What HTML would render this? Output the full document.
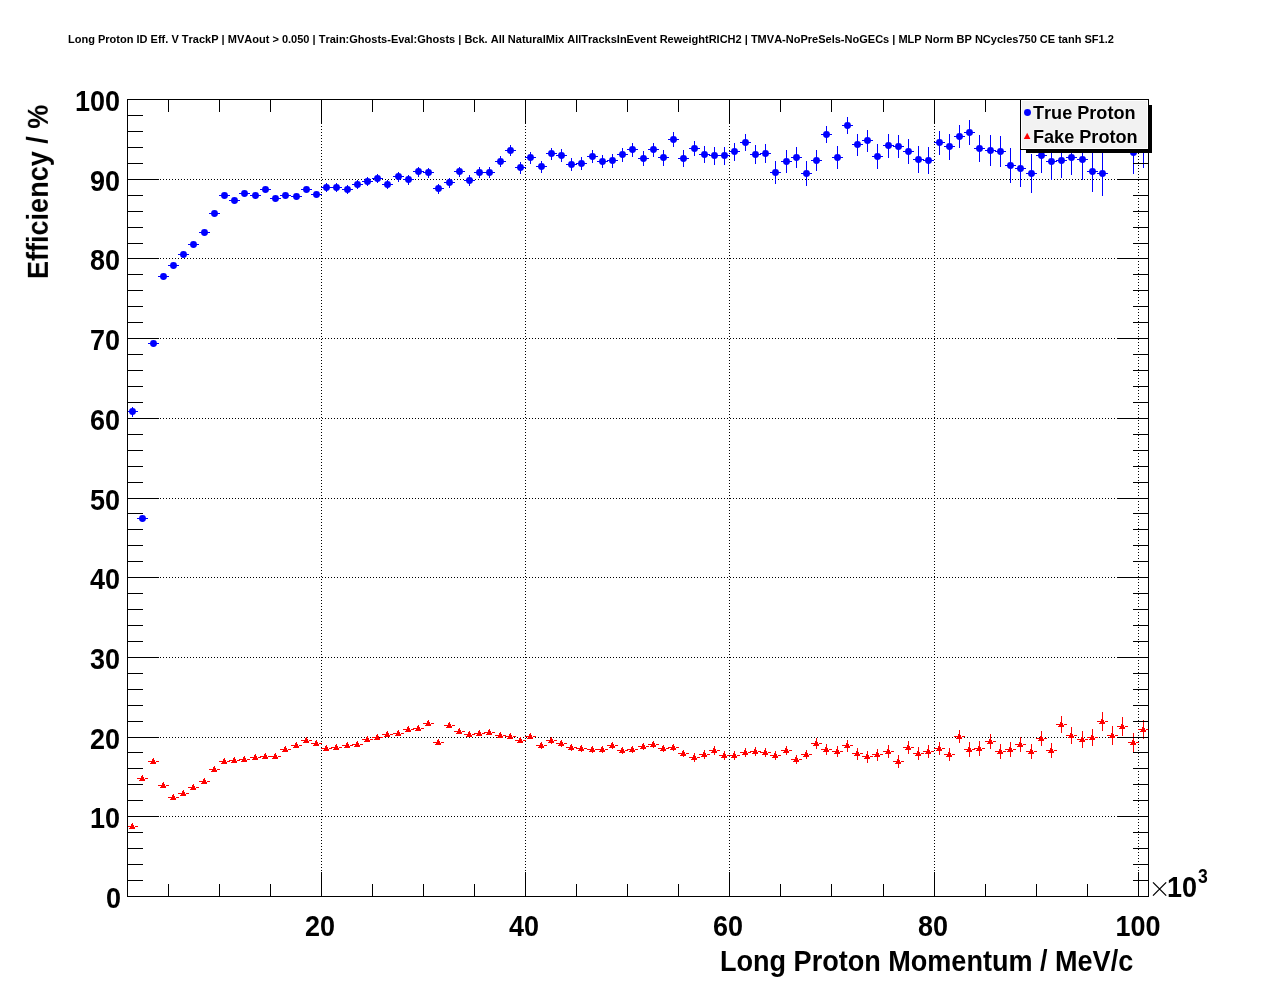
<!DOCTYPE html>
<html><head><meta charset="utf-8"><title>Long Proton ID Eff. V TrackP</title>
<style>
html,body{margin:0;padding:0;background:#fff;}
body{width:1276px;height:996px;position:relative;overflow:hidden;font-family:"Liberation Sans",sans-serif;font-weight:bold;color:#000;}
.t{position:absolute;white-space:nowrap;line-height:1;margin:0;padding:0;will-change:transform;font-kerning:none;}
.xl{font-size:27px;width:120px;text-align:center;top:913.8px;transform:scaleY(1.11);transform-origin:50% 80%;}
.yl{font-size:27px;width:100px;text-align:right;left:20px;transform:scaleY(1.11);transform-origin:50% 50%;}
</style></head><body>
<svg width="1276" height="996" viewBox="0 0 1276 996" style="position:absolute;left:0;top:0">
<rect x="0" y="0" width="1276" height="996" fill="#fff"/>
<path d="M127 816.5H1148M127 737.5H1148M127 657.5H1148M127 577.5H1148M127 498.5H1148M127 418.5H1148M127 338.5H1148M127 258.5H1148M127 179.5H1148" stroke="#000" stroke-width="1" stroke-dasharray="1 2" fill="none" shape-rendering="crispEdges"/>
<path d="M321.5 99V896M525.5 99V896M729.5 99V896M934.5 99V896M1138.5 99V896" stroke="#000" stroke-width="1" stroke-dasharray="1 2" fill="none" shape-rendering="crispEdges"/>
<path d="M127.0 411.5H138.0M132.5 406.5V416.5M137.0 518.5H148.0M148.0 343.5H159.0M158.0 276.5H169.0M168.0 265.5H179.0M178.0 254.5H189.0M188.0 244.5H199.0M199.0 232.5H210.0M209.0 213.5H220.0M219.0 195.5H230.0M229.0 200.5H240.0M239.0 193.5H250.0M250.0 195.5H261.0M260.0 189.5H271.0M270.0 198.5H281.0M280.0 195.5H291.0M291.0 196.5H302.0M301.0 189.5H312.0M311.0 194.5H322.0M321.0 187.5H332.0M326.5 183.0V192.0M331.0 187.5H342.0M336.5 183.0V192.0M342.0 189.5H353.0M347.5 185.0V194.0M352.0 184.5H363.0M357.5 180.0V189.0M362.0 181.5H373.0M367.5 177.0V186.0M372.0 178.5H383.0M377.5 174.0V183.0M382.0 184.5H393.0M387.5 180.0V189.0M393.0 176.5H404.0M398.5 171.5V181.5M403.0 179.5H414.0M408.5 174.5V184.5M413.0 171.5H424.0M418.5 166.5V176.5M423.0 172.5H434.0M428.5 167.5V177.5M433.0 188.5H444.0M438.5 183.5V193.5M444.0 182.5H455.0M449.5 177.5V187.5M454.0 171.5H465.0M459.5 166.5V176.5M464.0 180.5H475.0M469.5 175.0V186.0M474.0 172.5H485.0M479.5 167.0V178.0M484.0 172.5H495.0M489.5 167.0V178.0M495.0 161.5H506.0M500.5 156.0V167.0M505.0 150.5H516.0M510.5 145.0V156.0M515.0 167.5H526.0M520.5 161.5V173.5M525.0 157.5H536.0M530.5 151.5V163.5M536.0 166.5H547.0M541.5 160.5V172.5M546.0 153.5H557.0M551.5 147.5V159.5M556.0 155.5H567.0M561.5 148.9V162.1M566.0 164.5H577.0M571.5 157.9V171.1M576.0 163.5H587.0M581.5 156.9V170.1M587.0 156.5H598.0M592.5 149.9V163.1M597.0 161.5H608.0M602.5 154.9V168.1M607.0 160.5H618.0M612.5 153.5V167.5M617.0 154.5H628.0M622.5 147.5V161.5M627.0 149.5H638.0M632.5 142.5V156.5M638.0 158.5H649.0M643.5 151.2V165.8M648.0 149.5H659.0M653.5 142.5V156.5M658.0 157.5H669.0M663.5 149.5V165.5M668.0 139.5H679.0M673.5 132.3V146.7M678.0 158.5H689.0M683.5 150.2V166.8M689.0 148.5H700.0M694.5 140.7V156.3M699.0 154.5H710.0M704.5 146.0V163.0M709.0 155.5H720.0M714.5 146.5V164.5M719.0 155.5H730.0M724.5 146.5V164.5M729.0 151.5H740.0M734.5 142.5V160.5M740.0 142.5H751.0M745.5 133.7V151.3M750.0 154.5H761.0M755.5 145.0V164.0M760.0 153.5H771.0M765.5 144.1V162.9M770.0 172.5H781.0M775.5 161.4V183.6M781.0 161.5H792.0M786.5 150.4V172.6M791.0 157.5H802.0M796.5 146.9V168.1M801.0 173.5H812.0M806.5 161.0V186.0M811.0 160.5H822.0M816.5 150.0V171.0M821.0 134.5H832.0M826.5 125.6V143.4M832.0 157.5H843.0M837.5 146.0V169.0M842.0 125.5H853.0M847.5 117.0V134.0M852.0 144.5H863.0M857.5 133.5V155.5M862.0 140.5H873.0M867.5 129.5V151.5M872.0 156.5H883.0M877.5 144.0V169.0M883.0 145.5H894.0M888.5 133.5V157.5M893.0 146.5H904.0M898.5 135.0V158.0M903.0 151.5H914.0M908.5 139.0V164.0M913.0 159.5H924.0M918.5 146.1V172.9M923.0 160.5H934.0M928.5 146.6V174.4M934.0 142.5H945.0M939.5 130.5V154.5M944.0 146.5H955.0M949.5 133.5V159.5M954.0 136.5H965.0M959.5 125.2V147.8M964.0 132.5H975.0M969.5 119.6V145.4M974.0 148.5H985.0M979.5 135.0V162.0M985.0 150.5H996.0M990.5 135.0V166.0M995.0 151.5H1006.0M1000.5 136.1V166.9M1005.0 165.5H1016.0M1010.5 148.1V182.9M1015.0 168.5H1026.0M1020.5 149.9V187.1M1026.0 173.5H1037.0M1031.5 154.0V193.0M1036.0 155.5H1047.0M1041.5 137.9V173.1M1046.0 161.5H1057.0M1051.5 142.9V180.1M1056.0 160.5H1067.0M1061.5 142.9V178.1M1066.0 157.5H1077.0M1071.5 140.1V174.9M1077.0 159.5H1088.0M1082.5 138.9V180.1M1087.0 171.5H1098.0M1092.5 151.5V191.5M1097.0 173.5H1108.0M1102.5 150.9V196.1M1128.0 152.5H1139.0M1133.5 131.5V173.5M1138.0 143.5H1149.0M1143.5 119.5V167.5" stroke="#0000ff" stroke-width="1" fill="none" shape-rendering="crispEdges"/>
<path d="M129.05 411.5a3.45 3.45 0 1 0 6.9 0a3.45 3.45 0 1 0 -6.9 0zM139.05 518.5a3.45 3.45 0 1 0 6.9 0a3.45 3.45 0 1 0 -6.9 0zM150.05 343.5a3.45 3.45 0 1 0 6.9 0a3.45 3.45 0 1 0 -6.9 0zM160.05 276.5a3.45 3.45 0 1 0 6.9 0a3.45 3.45 0 1 0 -6.9 0zM170.05 265.5a3.45 3.45 0 1 0 6.9 0a3.45 3.45 0 1 0 -6.9 0zM180.05 254.5a3.45 3.45 0 1 0 6.9 0a3.45 3.45 0 1 0 -6.9 0zM190.05 244.5a3.45 3.45 0 1 0 6.9 0a3.45 3.45 0 1 0 -6.9 0zM201.05 232.5a3.45 3.45 0 1 0 6.9 0a3.45 3.45 0 1 0 -6.9 0zM211.05 213.5a3.45 3.45 0 1 0 6.9 0a3.45 3.45 0 1 0 -6.9 0zM221.05 195.5a3.45 3.45 0 1 0 6.9 0a3.45 3.45 0 1 0 -6.9 0zM231.05 200.5a3.45 3.45 0 1 0 6.9 0a3.45 3.45 0 1 0 -6.9 0zM241.05 193.5a3.45 3.45 0 1 0 6.9 0a3.45 3.45 0 1 0 -6.9 0zM252.05 195.5a3.45 3.45 0 1 0 6.9 0a3.45 3.45 0 1 0 -6.9 0zM262.05 189.5a3.45 3.45 0 1 0 6.9 0a3.45 3.45 0 1 0 -6.9 0zM272.05 198.5a3.45 3.45 0 1 0 6.9 0a3.45 3.45 0 1 0 -6.9 0zM282.05 195.5a3.45 3.45 0 1 0 6.9 0a3.45 3.45 0 1 0 -6.9 0zM293.05 196.5a3.45 3.45 0 1 0 6.9 0a3.45 3.45 0 1 0 -6.9 0zM303.05 189.5a3.45 3.45 0 1 0 6.9 0a3.45 3.45 0 1 0 -6.9 0zM313.05 194.5a3.45 3.45 0 1 0 6.9 0a3.45 3.45 0 1 0 -6.9 0zM323.05 187.5a3.45 3.45 0 1 0 6.9 0a3.45 3.45 0 1 0 -6.9 0zM333.05 187.5a3.45 3.45 0 1 0 6.9 0a3.45 3.45 0 1 0 -6.9 0zM344.05 189.5a3.45 3.45 0 1 0 6.9 0a3.45 3.45 0 1 0 -6.9 0zM354.05 184.5a3.45 3.45 0 1 0 6.9 0a3.45 3.45 0 1 0 -6.9 0zM364.05 181.5a3.45 3.45 0 1 0 6.9 0a3.45 3.45 0 1 0 -6.9 0zM374.05 178.5a3.45 3.45 0 1 0 6.9 0a3.45 3.45 0 1 0 -6.9 0zM384.05 184.5a3.45 3.45 0 1 0 6.9 0a3.45 3.45 0 1 0 -6.9 0zM395.05 176.5a3.45 3.45 0 1 0 6.9 0a3.45 3.45 0 1 0 -6.9 0zM405.05 179.5a3.45 3.45 0 1 0 6.9 0a3.45 3.45 0 1 0 -6.9 0zM415.05 171.5a3.45 3.45 0 1 0 6.9 0a3.45 3.45 0 1 0 -6.9 0zM425.05 172.5a3.45 3.45 0 1 0 6.9 0a3.45 3.45 0 1 0 -6.9 0zM435.05 188.5a3.45 3.45 0 1 0 6.9 0a3.45 3.45 0 1 0 -6.9 0zM446.05 182.5a3.45 3.45 0 1 0 6.9 0a3.45 3.45 0 1 0 -6.9 0zM456.05 171.5a3.45 3.45 0 1 0 6.9 0a3.45 3.45 0 1 0 -6.9 0zM466.05 180.5a3.45 3.45 0 1 0 6.9 0a3.45 3.45 0 1 0 -6.9 0zM476.05 172.5a3.45 3.45 0 1 0 6.9 0a3.45 3.45 0 1 0 -6.9 0zM486.05 172.5a3.45 3.45 0 1 0 6.9 0a3.45 3.45 0 1 0 -6.9 0zM497.05 161.5a3.45 3.45 0 1 0 6.9 0a3.45 3.45 0 1 0 -6.9 0zM507.05 150.5a3.45 3.45 0 1 0 6.9 0a3.45 3.45 0 1 0 -6.9 0zM517.05 167.5a3.45 3.45 0 1 0 6.9 0a3.45 3.45 0 1 0 -6.9 0zM527.05 157.5a3.45 3.45 0 1 0 6.9 0a3.45 3.45 0 1 0 -6.9 0zM538.05 166.5a3.45 3.45 0 1 0 6.9 0a3.45 3.45 0 1 0 -6.9 0zM548.05 153.5a3.45 3.45 0 1 0 6.9 0a3.45 3.45 0 1 0 -6.9 0zM558.05 155.5a3.45 3.45 0 1 0 6.9 0a3.45 3.45 0 1 0 -6.9 0zM568.05 164.5a3.45 3.45 0 1 0 6.9 0a3.45 3.45 0 1 0 -6.9 0zM578.05 163.5a3.45 3.45 0 1 0 6.9 0a3.45 3.45 0 1 0 -6.9 0zM589.05 156.5a3.45 3.45 0 1 0 6.9 0a3.45 3.45 0 1 0 -6.9 0zM599.05 161.5a3.45 3.45 0 1 0 6.9 0a3.45 3.45 0 1 0 -6.9 0zM609.05 160.5a3.45 3.45 0 1 0 6.9 0a3.45 3.45 0 1 0 -6.9 0zM619.05 154.5a3.45 3.45 0 1 0 6.9 0a3.45 3.45 0 1 0 -6.9 0zM629.05 149.5a3.45 3.45 0 1 0 6.9 0a3.45 3.45 0 1 0 -6.9 0zM640.05 158.5a3.45 3.45 0 1 0 6.9 0a3.45 3.45 0 1 0 -6.9 0zM650.05 149.5a3.45 3.45 0 1 0 6.9 0a3.45 3.45 0 1 0 -6.9 0zM660.05 157.5a3.45 3.45 0 1 0 6.9 0a3.45 3.45 0 1 0 -6.9 0zM670.05 139.5a3.45 3.45 0 1 0 6.9 0a3.45 3.45 0 1 0 -6.9 0zM680.05 158.5a3.45 3.45 0 1 0 6.9 0a3.45 3.45 0 1 0 -6.9 0zM691.05 148.5a3.45 3.45 0 1 0 6.9 0a3.45 3.45 0 1 0 -6.9 0zM701.05 154.5a3.45 3.45 0 1 0 6.9 0a3.45 3.45 0 1 0 -6.9 0zM711.05 155.5a3.45 3.45 0 1 0 6.9 0a3.45 3.45 0 1 0 -6.9 0zM721.05 155.5a3.45 3.45 0 1 0 6.9 0a3.45 3.45 0 1 0 -6.9 0zM731.05 151.5a3.45 3.45 0 1 0 6.9 0a3.45 3.45 0 1 0 -6.9 0zM742.05 142.5a3.45 3.45 0 1 0 6.9 0a3.45 3.45 0 1 0 -6.9 0zM752.05 154.5a3.45 3.45 0 1 0 6.9 0a3.45 3.45 0 1 0 -6.9 0zM762.05 153.5a3.45 3.45 0 1 0 6.9 0a3.45 3.45 0 1 0 -6.9 0zM772.05 172.5a3.45 3.45 0 1 0 6.9 0a3.45 3.45 0 1 0 -6.9 0zM783.05 161.5a3.45 3.45 0 1 0 6.9 0a3.45 3.45 0 1 0 -6.9 0zM793.05 157.5a3.45 3.45 0 1 0 6.9 0a3.45 3.45 0 1 0 -6.9 0zM803.05 173.5a3.45 3.45 0 1 0 6.9 0a3.45 3.45 0 1 0 -6.9 0zM813.05 160.5a3.45 3.45 0 1 0 6.9 0a3.45 3.45 0 1 0 -6.9 0zM823.05 134.5a3.45 3.45 0 1 0 6.9 0a3.45 3.45 0 1 0 -6.9 0zM834.05 157.5a3.45 3.45 0 1 0 6.9 0a3.45 3.45 0 1 0 -6.9 0zM844.05 125.5a3.45 3.45 0 1 0 6.9 0a3.45 3.45 0 1 0 -6.9 0zM854.05 144.5a3.45 3.45 0 1 0 6.9 0a3.45 3.45 0 1 0 -6.9 0zM864.05 140.5a3.45 3.45 0 1 0 6.9 0a3.45 3.45 0 1 0 -6.9 0zM874.05 156.5a3.45 3.45 0 1 0 6.9 0a3.45 3.45 0 1 0 -6.9 0zM885.05 145.5a3.45 3.45 0 1 0 6.9 0a3.45 3.45 0 1 0 -6.9 0zM895.05 146.5a3.45 3.45 0 1 0 6.9 0a3.45 3.45 0 1 0 -6.9 0zM905.05 151.5a3.45 3.45 0 1 0 6.9 0a3.45 3.45 0 1 0 -6.9 0zM915.05 159.5a3.45 3.45 0 1 0 6.9 0a3.45 3.45 0 1 0 -6.9 0zM925.05 160.5a3.45 3.45 0 1 0 6.9 0a3.45 3.45 0 1 0 -6.9 0zM936.05 142.5a3.45 3.45 0 1 0 6.9 0a3.45 3.45 0 1 0 -6.9 0zM946.05 146.5a3.45 3.45 0 1 0 6.9 0a3.45 3.45 0 1 0 -6.9 0zM956.05 136.5a3.45 3.45 0 1 0 6.9 0a3.45 3.45 0 1 0 -6.9 0zM966.05 132.5a3.45 3.45 0 1 0 6.9 0a3.45 3.45 0 1 0 -6.9 0zM976.05 148.5a3.45 3.45 0 1 0 6.9 0a3.45 3.45 0 1 0 -6.9 0zM987.05 150.5a3.45 3.45 0 1 0 6.9 0a3.45 3.45 0 1 0 -6.9 0zM997.05 151.5a3.45 3.45 0 1 0 6.9 0a3.45 3.45 0 1 0 -6.9 0zM1007.05 165.5a3.45 3.45 0 1 0 6.9 0a3.45 3.45 0 1 0 -6.9 0zM1017.05 168.5a3.45 3.45 0 1 0 6.9 0a3.45 3.45 0 1 0 -6.9 0zM1028.05 173.5a3.45 3.45 0 1 0 6.9 0a3.45 3.45 0 1 0 -6.9 0zM1038.05 155.5a3.45 3.45 0 1 0 6.9 0a3.45 3.45 0 1 0 -6.9 0zM1048.05 161.5a3.45 3.45 0 1 0 6.9 0a3.45 3.45 0 1 0 -6.9 0zM1058.05 160.5a3.45 3.45 0 1 0 6.9 0a3.45 3.45 0 1 0 -6.9 0zM1068.05 157.5a3.45 3.45 0 1 0 6.9 0a3.45 3.45 0 1 0 -6.9 0zM1079.05 159.5a3.45 3.45 0 1 0 6.9 0a3.45 3.45 0 1 0 -6.9 0zM1089.05 171.5a3.45 3.45 0 1 0 6.9 0a3.45 3.45 0 1 0 -6.9 0zM1099.05 173.5a3.45 3.45 0 1 0 6.9 0a3.45 3.45 0 1 0 -6.9 0zM1130.05 152.5a3.45 3.45 0 1 0 6.9 0a3.45 3.45 0 1 0 -6.9 0zM1140.05 143.5a3.45 3.45 0 1 0 6.9 0a3.45 3.45 0 1 0 -6.9 0z" fill="#0000ff"/>
<path d="M127.0 826.5H134.0M135.0 826.5H138.0M137.0 778.5H144.0M145.0 778.5H148.0M148.0 761.5H155.0M156.0 761.5H159.0M158.0 785.5H165.0M166.0 785.5H169.0M168.0 797.5H175.0M176.0 797.5H179.0M178.0 793.5H185.0M186.0 793.5H189.0M188.0 787.5H195.0M196.0 787.5H199.0M199.0 781.5H206.0M207.0 781.5H210.0M209.0 769.5H216.0M217.0 769.5H220.0M219.0 761.5H226.0M227.0 761.5H230.0M229.0 760.5H236.0M237.0 760.5H240.0M239.0 759.5H246.0M247.0 759.5H250.0M250.0 757.5H257.0M258.0 757.5H261.0M260.0 756.5H267.0M268.0 756.5H271.0M270.0 756.5H277.0M278.0 756.5H281.0M280.0 749.5H287.0M288.0 749.5H291.0M291.0 745.5H298.0M299.0 745.5H302.0M301.0 740.5H308.0M309.0 740.5H312.0M311.0 743.5H318.0M319.0 743.5H322.0M321.0 748.5H328.0M329.0 748.5H332.0M331.0 747.5H338.0M339.0 747.5H342.0M342.0 745.5H349.0M350.0 745.5H353.0M352.0 744.5H359.0M360.0 744.5H363.0M362.0 739.5H369.0M370.0 739.5H373.0M372.0 737.5H379.0M380.0 737.5H383.0M382.0 734.5H389.0M390.0 734.5H393.0M393.0 733.5H400.0M401.0 733.5H404.0M403.0 729.5H410.0M411.0 729.5H414.0M413.0 728.5H420.0M421.0 728.5H424.0M423.0 723.5H430.0M431.0 723.5H434.0M433.0 742.5H440.0M441.0 742.5H444.0M444.0 725.5H451.0M452.0 725.5H455.0M454.0 731.5H461.0M462.0 731.5H465.0M464.0 734.5H471.0M472.0 734.5H475.0M474.0 733.5H481.0M482.0 733.5H485.0M484.0 732.5H491.0M492.0 732.5H495.0M495.0 735.5H502.0M503.0 735.5H506.0M505.0 736.5H512.0M513.0 736.5H516.0M515.0 740.5H522.0M523.0 740.5H526.0M525.0 736.5H532.0M533.0 736.5H536.0M536.0 745.5H543.0M544.0 745.5H547.0M541.5 742.5V748.5M546.0 740.5H553.0M554.0 740.5H557.0M551.5 737.5V743.5M556.0 743.5H563.0M564.0 743.5H567.0M561.5 740.5V746.5M566.0 747.5H573.0M574.0 747.5H577.0M571.5 744.5V750.5M576.0 748.5H583.0M584.0 748.5H587.0M581.5 745.5V751.5M587.0 749.5H594.0M595.0 749.5H598.0M592.5 746.5V752.5M597.0 749.5H604.0M605.0 749.5H608.0M602.5 746.5V752.5M607.0 745.5H614.0M615.0 745.5H618.0M612.5 742.5V748.5M617.0 750.5H624.0M625.0 750.5H628.0M622.5 746.9V754.1M627.0 749.5H634.0M635.0 749.5H638.0M632.5 745.9V753.1M638.0 746.5H645.0M646.0 746.5H649.0M643.5 742.9V750.1M648.0 744.5H655.0M656.0 744.5H659.0M653.5 740.9V748.1M658.0 748.5H665.0M666.0 748.5H669.0M663.5 744.9V752.1M668.0 747.5H675.0M676.0 747.5H679.0M673.5 743.9V751.1M678.0 753.5H685.0M686.0 753.5H689.0M683.5 749.9V757.1M689.0 757.5H696.0M697.0 757.5H700.0M694.5 753.4V761.6M699.0 754.5H706.0M707.0 754.5H710.0M704.5 750.4V758.6M709.0 750.5H716.0M717.0 750.5H720.0M714.5 746.4V754.6M719.0 755.5H726.0M727.0 755.5H730.0M724.5 751.4V759.6M729.0 755.5H736.0M737.0 755.5H740.0M734.5 750.9V760.1M740.0 752.5H747.0M748.0 752.5H751.0M745.5 747.9V757.1M750.0 751.5H757.0M758.0 751.5H761.0M755.5 746.9V756.1M760.0 752.5H767.0M768.0 752.5H771.0M765.5 747.9V757.1M770.0 755.5H777.0M778.0 755.5H781.0M775.5 750.9V760.1M781.0 750.5H788.0M789.0 750.5H792.0M786.5 745.6V755.4M791.0 759.5H798.0M799.0 759.5H802.0M796.5 754.6V764.4M801.0 754.5H808.0M809.0 754.5H812.0M806.5 749.6V759.4M811.0 743.5H818.0M819.0 743.5H822.0M816.5 738.1V748.9M821.0 749.5H828.0M829.0 749.5H832.0M826.5 744.1V754.9M832.0 751.5H839.0M840.0 751.5H843.0M837.5 746.1V756.9M842.0 745.5H849.0M850.0 745.5H853.0M847.5 739.5V751.5M852.0 753.5H859.0M860.0 753.5H863.0M857.5 747.5V759.5M862.0 756.5H869.0M870.0 756.5H873.0M867.5 750.5V762.5M872.0 754.5H879.0M880.0 754.5H883.0M877.5 748.5V760.5M883.0 751.5H890.0M891.0 751.5H894.0M888.5 745.2V757.8M893.0 761.5H900.0M901.0 761.5H904.0M898.5 755.2V767.8M903.0 747.5H910.0M911.0 747.5H914.0M908.5 741.2V753.8M913.0 753.5H920.0M921.0 753.5H924.0M918.5 747.2V759.8M923.0 751.5H930.0M931.0 751.5H934.0M928.5 745.2V757.8M934.0 748.5H941.0M942.0 748.5H945.0M939.5 742.2V754.8M944.0 754.5H951.0M952.0 754.5H955.0M949.5 747.6V761.4M954.0 736.5H961.0M962.0 736.5H965.0M959.5 729.6V743.4M964.0 749.5H971.0M972.0 749.5H975.0M969.5 742.1V756.9M974.0 748.5H981.0M982.0 748.5H985.0M979.5 741.1V755.9M985.0 741.5H992.0M993.0 741.5H996.0M990.5 734.1V748.9M995.0 751.5H1002.0M1003.0 751.5H1006.0M1000.5 744.1V758.9M1005.0 749.5H1012.0M1013.0 749.5H1016.0M1010.5 742.1V756.9M1015.0 744.5H1022.0M1023.0 744.5H1026.0M1020.5 736.7V752.3M1026.0 751.5H1033.0M1034.0 751.5H1037.0M1031.5 743.7V759.3M1036.0 738.5H1043.0M1044.0 738.5H1047.0M1041.5 730.7V746.3M1046.0 750.5H1053.0M1054.0 750.5H1057.0M1051.5 742.7V758.3M1056.0 724.5H1063.0M1064.0 724.5H1067.0M1061.5 715.7V733.3M1066.0 735.5H1073.0M1074.0 735.5H1077.0M1071.5 727.0V744.0M1077.0 739.5H1084.0M1085.0 739.5H1088.0M1082.5 730.7V748.3M1087.0 737.5H1094.0M1095.0 737.5H1098.0M1092.5 729.0V746.0M1097.0 721.5H1104.0M1105.0 721.5H1108.0M1102.5 712.2V730.8M1107.0 735.5H1114.0M1115.0 735.5H1118.0M1112.5 726.1V744.9M1117.0 726.5H1124.0M1125.0 726.5H1128.0M1122.5 717.1V735.9M1128.0 742.5H1135.0M1136.0 742.5H1139.0M1133.5 733.0V752.0M1138.0 729.5H1145.0M1146.0 729.5H1149.0M1143.5 719.6V739.4" stroke="#ff0000" stroke-width="1" fill="none" shape-rendering="crispEdges"/>
<path d="M132 823h1v1h-1zM131 824h2v1h-2zM131 825h3v1h-3zM130 827h5v1h-5zM129 828h6v1h-6zM142 775h1v1h-1zM141 776h2v1h-2zM141 777h3v1h-3zM140 779h5v1h-5zM139 780h6v1h-6zM153 758h1v1h-1zM152 759h2v1h-2zM152 760h3v1h-3zM151 762h5v1h-5zM150 763h6v1h-6zM163 782h1v1h-1zM162 783h2v1h-2zM162 784h3v1h-3zM161 786h5v1h-5zM160 787h6v1h-6zM173 794h1v1h-1zM172 795h2v1h-2zM172 796h3v1h-3zM171 798h5v1h-5zM170 799h6v1h-6zM183 790h1v1h-1zM182 791h2v1h-2zM182 792h3v1h-3zM181 794h5v1h-5zM180 795h6v1h-6zM193 784h1v1h-1zM192 785h2v1h-2zM192 786h3v1h-3zM191 788h5v1h-5zM190 789h6v1h-6zM204 778h1v1h-1zM203 779h2v1h-2zM203 780h3v1h-3zM202 782h5v1h-5zM201 783h6v1h-6zM214 766h1v1h-1zM213 767h2v1h-2zM213 768h3v1h-3zM212 770h5v1h-5zM211 771h6v1h-6zM224 758h1v1h-1zM223 759h2v1h-2zM223 760h3v1h-3zM222 762h5v1h-5zM221 763h6v1h-6zM234 757h1v1h-1zM233 758h2v1h-2zM233 759h3v1h-3zM232 761h5v1h-5zM231 762h6v1h-6zM244 756h1v1h-1zM243 757h2v1h-2zM243 758h3v1h-3zM242 760h5v1h-5zM241 761h6v1h-6zM255 754h1v1h-1zM254 755h2v1h-2zM254 756h3v1h-3zM253 758h5v1h-5zM252 759h6v1h-6zM265 753h1v1h-1zM264 754h2v1h-2zM264 755h3v1h-3zM263 757h5v1h-5zM262 758h6v1h-6zM275 753h1v1h-1zM274 754h2v1h-2zM274 755h3v1h-3zM273 757h5v1h-5zM272 758h6v1h-6zM285 746h1v1h-1zM284 747h2v1h-2zM284 748h3v1h-3zM283 750h5v1h-5zM282 751h6v1h-6zM296 742h1v1h-1zM295 743h2v1h-2zM295 744h3v1h-3zM294 746h5v1h-5zM293 747h6v1h-6zM306 737h1v1h-1zM305 738h2v1h-2zM305 739h3v1h-3zM304 741h5v1h-5zM303 742h6v1h-6zM316 740h1v1h-1zM315 741h2v1h-2zM315 742h3v1h-3zM314 744h5v1h-5zM313 745h6v1h-6zM326 745h1v1h-1zM325 746h2v1h-2zM325 747h3v1h-3zM324 749h5v1h-5zM323 750h6v1h-6zM336 744h1v1h-1zM335 745h2v1h-2zM335 746h3v1h-3zM334 748h5v1h-5zM333 749h6v1h-6zM347 742h1v1h-1zM346 743h2v1h-2zM346 744h3v1h-3zM345 746h5v1h-5zM344 747h6v1h-6zM357 741h1v1h-1zM356 742h2v1h-2zM356 743h3v1h-3zM355 745h5v1h-5zM354 746h6v1h-6zM367 736h1v1h-1zM366 737h2v1h-2zM366 738h3v1h-3zM365 740h5v1h-5zM364 741h6v1h-6zM377 734h1v1h-1zM376 735h2v1h-2zM376 736h3v1h-3zM375 738h5v1h-5zM374 739h6v1h-6zM387 731h1v1h-1zM386 732h2v1h-2zM386 733h3v1h-3zM385 735h5v1h-5zM384 736h6v1h-6zM398 730h1v1h-1zM397 731h2v1h-2zM397 732h3v1h-3zM396 734h5v1h-5zM395 735h6v1h-6zM408 726h1v1h-1zM407 727h2v1h-2zM407 728h3v1h-3zM406 730h5v1h-5zM405 731h6v1h-6zM418 725h1v1h-1zM417 726h2v1h-2zM417 727h3v1h-3zM416 729h5v1h-5zM415 730h6v1h-6zM428 720h1v1h-1zM427 721h2v1h-2zM427 722h3v1h-3zM426 724h5v1h-5zM425 725h6v1h-6zM438 739h1v1h-1zM437 740h2v1h-2zM437 741h3v1h-3zM436 743h5v1h-5zM435 744h6v1h-6zM449 722h1v1h-1zM448 723h2v1h-2zM448 724h3v1h-3zM447 726h5v1h-5zM446 727h6v1h-6zM459 728h1v1h-1zM458 729h2v1h-2zM458 730h3v1h-3zM457 732h5v1h-5zM456 733h6v1h-6zM469 731h1v1h-1zM468 732h2v1h-2zM468 733h3v1h-3zM467 735h5v1h-5zM466 736h6v1h-6zM479 730h1v1h-1zM478 731h2v1h-2zM478 732h3v1h-3zM477 734h5v1h-5zM476 735h6v1h-6zM489 729h1v1h-1zM488 730h2v1h-2zM488 731h3v1h-3zM487 733h5v1h-5zM486 734h6v1h-6zM500 732h1v1h-1zM499 733h2v1h-2zM499 734h3v1h-3zM498 736h5v1h-5zM497 737h6v1h-6zM510 733h1v1h-1zM509 734h2v1h-2zM509 735h3v1h-3zM508 737h5v1h-5zM507 738h6v1h-6zM520 737h1v1h-1zM519 738h2v1h-2zM519 739h3v1h-3zM518 741h5v1h-5zM517 742h6v1h-6zM530 733h1v1h-1zM529 734h2v1h-2zM529 735h3v1h-3zM528 737h5v1h-5zM527 738h6v1h-6zM541 742h1v1h-1zM540 743h2v1h-2zM540 744h3v1h-3zM539 746h5v1h-5zM538 747h6v1h-6zM551 737h1v1h-1zM550 738h2v1h-2zM550 739h3v1h-3zM549 741h5v1h-5zM548 742h6v1h-6zM561 740h1v1h-1zM560 741h2v1h-2zM560 742h3v1h-3zM559 744h5v1h-5zM558 745h6v1h-6zM571 744h1v1h-1zM570 745h2v1h-2zM570 746h3v1h-3zM569 748h5v1h-5zM568 749h6v1h-6zM581 745h1v1h-1zM580 746h2v1h-2zM580 747h3v1h-3zM579 749h5v1h-5zM578 750h6v1h-6zM592 746h1v1h-1zM591 747h2v1h-2zM591 748h3v1h-3zM590 750h5v1h-5zM589 751h6v1h-6zM602 746h1v1h-1zM601 747h2v1h-2zM601 748h3v1h-3zM600 750h5v1h-5zM599 751h6v1h-6zM612 742h1v1h-1zM611 743h2v1h-2zM611 744h3v1h-3zM610 746h5v1h-5zM609 747h6v1h-6zM622 747h1v1h-1zM621 748h2v1h-2zM621 749h3v1h-3zM620 751h5v1h-5zM619 752h6v1h-6zM632 746h1v1h-1zM631 747h2v1h-2zM631 748h3v1h-3zM630 750h5v1h-5zM629 751h6v1h-6zM643 743h1v1h-1zM642 744h2v1h-2zM642 745h3v1h-3zM641 747h5v1h-5zM640 748h6v1h-6zM653 741h1v1h-1zM652 742h2v1h-2zM652 743h3v1h-3zM651 745h5v1h-5zM650 746h6v1h-6zM663 745h1v1h-1zM662 746h2v1h-2zM662 747h3v1h-3zM661 749h5v1h-5zM660 750h6v1h-6zM673 744h1v1h-1zM672 745h2v1h-2zM672 746h3v1h-3zM671 748h5v1h-5zM670 749h6v1h-6zM683 750h1v1h-1zM682 751h2v1h-2zM682 752h3v1h-3zM681 754h5v1h-5zM680 755h6v1h-6zM694 754h1v1h-1zM693 755h2v1h-2zM693 756h3v1h-3zM692 758h5v1h-5zM691 759h6v1h-6zM704 751h1v1h-1zM703 752h2v1h-2zM703 753h3v1h-3zM702 755h5v1h-5zM701 756h6v1h-6zM714 747h1v1h-1zM713 748h2v1h-2zM713 749h3v1h-3zM712 751h5v1h-5zM711 752h6v1h-6zM724 752h1v1h-1zM723 753h2v1h-2zM723 754h3v1h-3zM722 756h5v1h-5zM721 757h6v1h-6zM734 752h1v1h-1zM733 753h2v1h-2zM733 754h3v1h-3zM732 756h5v1h-5zM731 757h6v1h-6zM745 749h1v1h-1zM744 750h2v1h-2zM744 751h3v1h-3zM743 753h5v1h-5zM742 754h6v1h-6zM755 748h1v1h-1zM754 749h2v1h-2zM754 750h3v1h-3zM753 752h5v1h-5zM752 753h6v1h-6zM765 749h1v1h-1zM764 750h2v1h-2zM764 751h3v1h-3zM763 753h5v1h-5zM762 754h6v1h-6zM775 752h1v1h-1zM774 753h2v1h-2zM774 754h3v1h-3zM773 756h5v1h-5zM772 757h6v1h-6zM786 747h1v1h-1zM785 748h2v1h-2zM785 749h3v1h-3zM784 751h5v1h-5zM783 752h6v1h-6zM796 756h1v1h-1zM795 757h2v1h-2zM795 758h3v1h-3zM794 760h5v1h-5zM793 761h6v1h-6zM806 751h1v1h-1zM805 752h2v1h-2zM805 753h3v1h-3zM804 755h5v1h-5zM803 756h6v1h-6zM816 740h1v1h-1zM815 741h2v1h-2zM815 742h3v1h-3zM814 744h5v1h-5zM813 745h6v1h-6zM826 746h1v1h-1zM825 747h2v1h-2zM825 748h3v1h-3zM824 750h5v1h-5zM823 751h6v1h-6zM837 748h1v1h-1zM836 749h2v1h-2zM836 750h3v1h-3zM835 752h5v1h-5zM834 753h6v1h-6zM847 742h1v1h-1zM846 743h2v1h-2zM846 744h3v1h-3zM845 746h5v1h-5zM844 747h6v1h-6zM857 750h1v1h-1zM856 751h2v1h-2zM856 752h3v1h-3zM855 754h5v1h-5zM854 755h6v1h-6zM867 753h1v1h-1zM866 754h2v1h-2zM866 755h3v1h-3zM865 757h5v1h-5zM864 758h6v1h-6zM877 751h1v1h-1zM876 752h2v1h-2zM876 753h3v1h-3zM875 755h5v1h-5zM874 756h6v1h-6zM888 748h1v1h-1zM887 749h2v1h-2zM887 750h3v1h-3zM886 752h5v1h-5zM885 753h6v1h-6zM898 758h1v1h-1zM897 759h2v1h-2zM897 760h3v1h-3zM896 762h5v1h-5zM895 763h6v1h-6zM908 744h1v1h-1zM907 745h2v1h-2zM907 746h3v1h-3zM906 748h5v1h-5zM905 749h6v1h-6zM918 750h1v1h-1zM917 751h2v1h-2zM917 752h3v1h-3zM916 754h5v1h-5zM915 755h6v1h-6zM928 748h1v1h-1zM927 749h2v1h-2zM927 750h3v1h-3zM926 752h5v1h-5zM925 753h6v1h-6zM939 745h1v1h-1zM938 746h2v1h-2zM938 747h3v1h-3zM937 749h5v1h-5zM936 750h6v1h-6zM949 751h1v1h-1zM948 752h2v1h-2zM948 753h3v1h-3zM947 755h5v1h-5zM946 756h6v1h-6zM959 733h1v1h-1zM958 734h2v1h-2zM958 735h3v1h-3zM957 737h5v1h-5zM956 738h6v1h-6zM969 746h1v1h-1zM968 747h2v1h-2zM968 748h3v1h-3zM967 750h5v1h-5zM966 751h6v1h-6zM979 745h1v1h-1zM978 746h2v1h-2zM978 747h3v1h-3zM977 749h5v1h-5zM976 750h6v1h-6zM990 738h1v1h-1zM989 739h2v1h-2zM989 740h3v1h-3zM988 742h5v1h-5zM987 743h6v1h-6zM1000 748h1v1h-1zM999 749h2v1h-2zM999 750h3v1h-3zM998 752h5v1h-5zM997 753h6v1h-6zM1010 746h1v1h-1zM1009 747h2v1h-2zM1009 748h3v1h-3zM1008 750h5v1h-5zM1007 751h6v1h-6zM1020 741h1v1h-1zM1019 742h2v1h-2zM1019 743h3v1h-3zM1018 745h5v1h-5zM1017 746h6v1h-6zM1031 748h1v1h-1zM1030 749h2v1h-2zM1030 750h3v1h-3zM1029 752h5v1h-5zM1028 753h6v1h-6zM1041 735h1v1h-1zM1040 736h2v1h-2zM1040 737h3v1h-3zM1039 739h5v1h-5zM1038 740h6v1h-6zM1051 747h1v1h-1zM1050 748h2v1h-2zM1050 749h3v1h-3zM1049 751h5v1h-5zM1048 752h6v1h-6zM1061 721h1v1h-1zM1060 722h2v1h-2zM1060 723h3v1h-3zM1059 725h5v1h-5zM1058 726h6v1h-6zM1071 732h1v1h-1zM1070 733h2v1h-2zM1070 734h3v1h-3zM1069 736h5v1h-5zM1068 737h6v1h-6zM1082 736h1v1h-1zM1081 737h2v1h-2zM1081 738h3v1h-3zM1080 740h5v1h-5zM1079 741h6v1h-6zM1092 734h1v1h-1zM1091 735h2v1h-2zM1091 736h3v1h-3zM1090 738h5v1h-5zM1089 739h6v1h-6zM1102 718h1v1h-1zM1101 719h2v1h-2zM1101 720h3v1h-3zM1100 722h5v1h-5zM1099 723h6v1h-6zM1112 732h1v1h-1zM1111 733h2v1h-2zM1111 734h3v1h-3zM1110 736h5v1h-5zM1109 737h6v1h-6zM1122 723h1v1h-1zM1121 724h2v1h-2zM1121 725h3v1h-3zM1120 727h5v1h-5zM1119 728h6v1h-6zM1133 739h1v1h-1zM1132 740h2v1h-2zM1132 741h3v1h-3zM1131 743h5v1h-5zM1130 744h6v1h-6zM1143 726h1v1h-1zM1142 727h2v1h-2zM1142 728h3v1h-3zM1141 730h5v1h-5zM1140 731h6v1h-6z" fill="#ff0000" shape-rendering="crispEdges"/>
<path d="M127.5 99V897M1148.5 99V897M127 99.5H1149M127 896.5H1149M128 880.5H143M1133 880.5H1148M128 864.5H143M1133 864.5H1148M128 848.5H143M1133 848.5H1148M128 832.5H143M1133 832.5H1148M128 816.5H159M1117 816.5H1148M128 800.5H143M1133 800.5H1148M128 784.5H143M1133 784.5H1148M128 768.5H143M1133 768.5H1148M128 752.5H143M1133 752.5H1148M128 737.5H159M1117 737.5H1148M128 721.5H143M1133 721.5H1148M128 705.5H143M1133 705.5H1148M128 689.5H143M1133 689.5H1148M128 673.5H143M1133 673.5H1148M128 657.5H159M1117 657.5H1148M128 641.5H143M1133 641.5H1148M128 625.5H143M1133 625.5H1148M128 609.5H143M1133 609.5H1148M128 593.5H143M1133 593.5H1148M128 577.5H159M1117 577.5H1148M128 561.5H143M1133 561.5H1148M128 545.5H143M1133 545.5H1148M128 529.5H143M1133 529.5H1148M128 513.5H143M1133 513.5H1148M128 498.5H159M1117 498.5H1148M128 482.5H143M1133 482.5H1148M128 466.5H143M1133 466.5H1148M128 450.5H143M1133 450.5H1148M128 434.5H143M1133 434.5H1148M128 418.5H159M1117 418.5H1148M128 402.5H143M1133 402.5H1148M128 386.5H143M1133 386.5H1148M128 370.5H143M1133 370.5H1148M128 354.5H143M1133 354.5H1148M128 338.5H159M1117 338.5H1148M128 322.5H143M1133 322.5H1148M128 306.5H143M1133 306.5H1148M128 290.5H143M1133 290.5H1148M128 274.5H143M1133 274.5H1148M128 258.5H159M1117 258.5H1148M128 243.5H143M1133 243.5H1148M128 227.5H143M1133 227.5H1148M128 211.5H143M1133 211.5H1148M128 195.5H143M1133 195.5H1148M128 179.5H159M1117 179.5H1148M128 163.5H143M1133 163.5H1148M128 147.5H143M1133 147.5H1148M128 131.5H143M1133 131.5H1148M128 115.5H143M1133 115.5H1148M168.5 100V112M168.5 884V896M219.5 100V112M219.5 884V896M270.5 100V112M270.5 884V896M321.5 100V124M321.5 872V896M372.5 100V112M372.5 884V896M423.5 100V112M423.5 884V896M474.5 100V112M474.5 884V896M525.5 100V124M525.5 872V896M576.5 100V112M576.5 884V896M627.5 100V112M627.5 884V896M678.5 100V112M678.5 884V896M729.5 100V124M729.5 872V896M780.5 100V112M780.5 884V896M831.5 100V112M831.5 884V896M883.5 100V112M883.5 884V896M934.5 100V124M934.5 872V896M985.5 100V112M985.5 884V896M1036.5 100V112M1036.5 884V896M1087.5 100V112M1087.5 884V896M1138.5 100V124M1138.5 872V896" stroke="#000" stroke-width="1" fill="none" shape-rendering="crispEdges"/>
<path d="M1149 105H1152V153H1026V150H1149Z" fill="#000" shape-rendering="crispEdges"/>
<rect x="1020.5" y="99.5" width="128" height="50" fill="#f2f2f2" stroke="#000" stroke-width="1" shape-rendering="crispEdges"/>
<rect x="1021.5" y="100.5" width="126" height="48" fill="none" stroke="#fff" stroke-width="1" shape-rendering="crispEdges"/>
<path d="M1024.05 112.5a3.45 3.45 0 1 0 6.9 0a3.45 3.45 0 1 0 -6.9 0z" fill="#0000ff"/>
<path d="M1027.2 132.8L1030.4 139H1023.8Z" fill="#ff0000"/>
<path d="M1153 882.4L1166.2 895.6M1166.2 882.4L1153 895.6" stroke="#000" stroke-width="1.3" fill="none"/>
</svg>
<div class="t" id="title" style="left:68.0px;top:34px;font-size:11.024px;letter-spacing:0px;transform:scaleY(1.06);transform-origin:0 80%">Long Proton ID Eff. V TrackP | MVAout &gt; 0.050 | Train:Ghosts-Eval:Ghosts | Bck. All NaturalMix AllTracksInEvent ReweightRICH2 | TMVA-NoPreSels-NoGECs | MLP Norm BP NCycles750 CE tanh SF1.2</div>
<div class="t xl" style="left:259.6px">20</div>
<div class="t xl" style="left:463.8px">40</div>
<div class="t xl" style="left:668.0px">60</div>
<div class="t xl" style="left:873.2px">80</div>
<div class="t xl" style="left:1077.9px">100</div>
<div class="t yl" style="top:884.5px; margin-left:1px;">0</div>
<div class="t yl" style="top:804.5px;">10</div>
<div class="t yl" style="top:725.5px;">20</div>
<div class="t yl" style="top:645.5px;">30</div>
<div class="t yl" style="top:565.5px;">40</div>
<div class="t yl" style="top:486.5px;">50</div>
<div class="t yl" style="top:406.5px;">60</div>
<div class="t yl" style="top:326.5px;">70</div>
<div class="t yl" style="top:246.5px;">80</div>
<div class="t yl" style="top:167.5px;">90</div>
<div class="t yl" style="top:87.5px;">100</div>
<div class="t" id="xt" style="left:719.9px;top:949px;font-size:27.05px;transform:scaleY(1.06);transform-origin:0 80%">Long Proton Momentum / MeV/c</div>
<div class="t" id="yt" style="left:24.44px;top:278.8px;font-size:27.05px;transform-origin:0 0;transform:rotate(-90deg) scaleY(1.071)">Efficiency / %</div>
<div class="t" id="lg1" style="left:1033px;top:104.1px;font-size:18.1px;transform:scaleY(1.0);transform-origin:0 80%;text-shadow:0 0 1px #fff,0 0 2px #fff">True Proton</div>
<div class="t" id="lg2" style="left:1033px;top:128.1px;font-size:18.1px;transform:scaleY(1.0);transform-origin:0 80%;text-shadow:0 0 1px #fff,0 0 2px #fff">Fake Proton</div>
<div class="t" id="e10" style="left:1167.1px;top:874.6px;font-size:27px;transform:scaleY(1.11);transform-origin:0 80%">10</div>
<div class="t" id="e3" style="left:1198.3px;top:869.1px;font-size:17.6px;transform:scaleY(1.11);transform-origin:0 80%">3</div>
</body></html>
